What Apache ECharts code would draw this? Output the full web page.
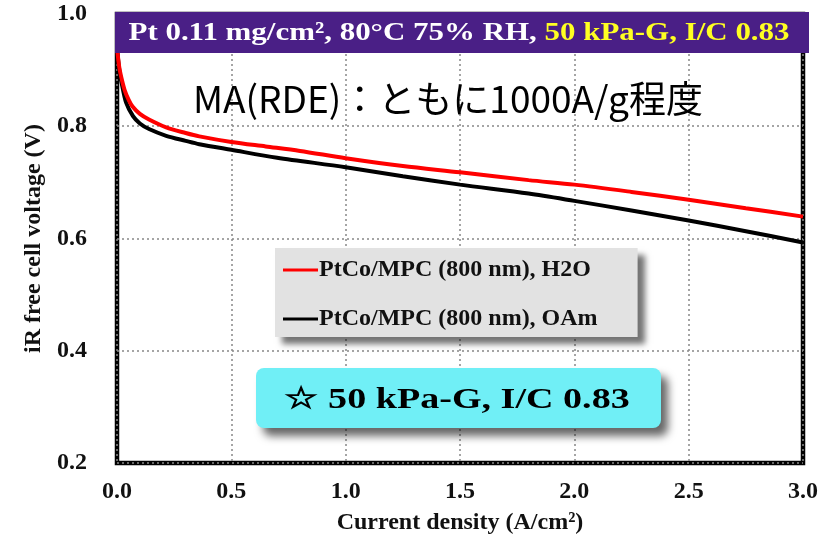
<!DOCTYPE html>
<html>
<head>
<meta charset="utf-8">
<script src="https://cdn.jsdelivr.net/npm/echarts@6/dist/echarts.min.js"></script>
<style>
html,body{margin:0;padding:0;background:#fff;}
#chart{width:821px;height:540px;}
</style>
</head>
<body>
<div id="chart"></div>
<script>
// ---- data ----
const seriesNames = ['PtCo/MPC (800 nm), H2O', 'PtCo/MPC (800 nm), OAm'];
const h2oCurrent = [0, 0.01, 0.02, 0.033, 0.05, 0.068, 0.1, 0.14, 0.215, 0.3, 0.36, 0.5, 0.65, 0.8, 1.0, 1.25, 1.5, 1.8, 2.0, 2.25, 2.5, 2.75, 3.0];
const h2oVoltage = [0.94, 0.905, 0.885, 0.865, 0.848, 0.835, 0.822, 0.812, 0.798, 0.788, 0.782, 0.772, 0.764, 0.756, 0.743, 0.729, 0.718, 0.704, 0.696, 0.683, 0.669, 0.654, 0.639];
const oamCurrent = [0, 0.01, 0.02, 0.04, 0.07, 0.1, 0.14, 0.215, 0.3, 0.36, 0.5, 0.7, 1.0, 1.25, 1.5, 1.8, 2.0, 2.25, 2.5, 2.75, 3.0];
const oamVoltage = [0.94, 0.90, 0.878, 0.842, 0.818, 0.805, 0.795, 0.783, 0.774, 0.768, 0.758, 0.744, 0.727, 0.711, 0.696, 0.680, 0.667, 0.650, 0.632, 0.613, 0.593];
const xTicks = [0, 0.5, 1.0, 1.5, 2.0, 2.5, 3.0];
const yTicks = [0.2, 0.4, 0.6, 0.8, 1.0];
const xAxisTitle = 'Current density (A/cm²)';
const yAxisTitle = 'iR free cell voltage (V)';
const bannerWhite = 'Pt 0.11 mg/cm², 80°C 75% RH, ';
const bannerYellow = '50 kPa-G, I/C 0.83';
const noteText = 'MA(RDE)：ともに1000A/g程度';
const boxText = '☆ 50 kPa-G, I/C 0.83';

const serif = '"Liberation Serif","DejaVu Serif",serif';
const chart = echarts.init(document.getElementById('chart'));
const zip = (xs, ys) => xs.map((x, i) => [x, ys[i]]);
const axisFont = { fontFamily: serif, fontWeight: 'bold', fontSize: 24, color: '#111' };

chart.setOption({
  animation: false,
  backgroundColor: '#fff',
  grid: { left: 117, right: 14, top: 14, bottom: 74, show: true, borderColor: '#000', borderWidth: 4.5, backgroundColor: 'transparent' },
  xAxis: {
    type: 'value', min: xTicks[0], max: xTicks[xTicks.length - 1], interval: 0.5,
    axisLine: { show: false }, axisTick: { show: false },
    splitLine: { show: true, lineStyle: { color: '#888', type: [2, 3], width: 1.5 } },
    axisLabel: Object.assign({ margin: 17, formatter: v => v.toFixed(1) }, axisFont),
    name: xAxisTitle, nameLocation: 'middle', nameGap: 48,
    nameTextStyle: axisFont
  },
  yAxis: {
    type: 'value', min: yTicks[0], max: yTicks[yTicks.length - 1], interval: 0.2,
    axisLine: { show: false }, axisTick: { show: false },
    splitLine: { show: true, lineStyle: { color: '#888', type: [2, 3], width: 1.5 } },
    axisLabel: Object.assign({ margin: 30, formatter: v => v.toFixed(1) }, axisFont),
    name: yAxisTitle, nameLocation: 'middle', nameGap: 70, nameRotate: 90,
    nameTextStyle: axisFont
  },
  legend: {
    orient: 'vertical', left: 275, top: 248, width: 360,
    backgroundColor: '#e2e2e2', padding: [10, 40, 6, 8], itemGap: 25,
    shadowColor: 'rgba(0,0,0,0.55)', shadowBlur: 6, shadowOffsetX: 7, shadowOffsetY: 7,
    icon: 'rect', itemWidth: 35, itemHeight: 3,
    textStyle: { fontFamily: serif, fontWeight: 'bold', fontSize: 24, color: '#111', padding: [0, 0, 0, -4] },
    data: seriesNames
  },
  series: [
    { name: seriesNames[0], type: 'line', data: zip(h2oCurrent, h2oVoltage), showSymbol: false, smooth: 0.3,
      lineStyle: { color: '#ff0000', width: 4 }, itemStyle: { color: '#ff0000' }, z: 3 },
    { name: seriesNames[1], type: 'line', data: zip(oamCurrent, oamVoltage), showSymbol: false, smooth: 0.3,
      lineStyle: { color: '#000', width: 4 }, itemStyle: { color: '#000' }, z: 2 }
  ],
  graphic: [
    { type: 'rect', shape: { x: 115, y: 12, width: 694, height: 41 }, style: { fill: '#4a1f86' }, z: 100 },
    { type: 'text', x: 459, y: 33, z: 101, scaleX: 1.19,
      style: { text: '{w|' + bannerWhite + '}{y|' + bannerYellow + '}', align: 'center', verticalAlign: 'middle',
        rich: {
          w: { fontFamily: serif, fontWeight: 'bold', fontSize: 26, fill: '#fff' },
          y: { fontFamily: serif, fontWeight: 'bold', fontSize: 26, fill: '#ffff22' }
        } } },
    { type: 'text', x: 448, y: 99, z: 101,
      style: { text: noteText, align: 'center', verticalAlign: 'middle',
        font: '37px "Noto Sans CJK JP", "Noto Sans", sans-serif', fill: '#000' } },
    { type: 'rect', shape: { x: 256, y: 368, width: 405, height: 60, r: 8 }, z: 100,
      style: { fill: '#70eff6', shadowColor: 'rgba(0,0,0,0.6)', shadowBlur: 8, shadowOffsetX: 7, shadowOffsetY: 8 } },
    { type: 'text', x: 457, y: 400, z: 101, scaleX: 1.27,
      style: { text: boxText, align: 'center', verticalAlign: 'middle',
        font: 'bold 30px "Liberation Serif","DejaVu Serif",serif', fill: '#000' } }
  ]
});
</script>
</body>
</html>
